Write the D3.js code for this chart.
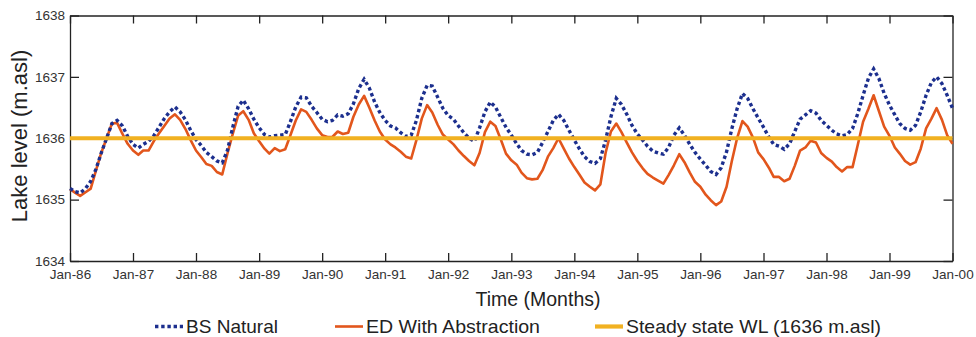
<!DOCTYPE html>
<html>
<head>
<meta charset="utf-8">
<script src="https://cdn.jsdelivr.net/npm/d3@7"></script>
<style>
  body { margin: 0; background: #fff; }
  svg { display: block; font-family: "Liberation Sans", Arial, sans-serif; }
  .axis text { font-size: 13.5px; fill: #333; }
  .axis path, .axis line { stroke: #222; stroke-width: 1.3; }
</style>
</head>
<body>
<div id="chart"></div>
<script>
// monthly lake levels, Jan-86 .. Jan-00 (m.asl)
const bsNatural = [
  1635.18, 1635.13, 1635.11, 1635.18, 1635.30, 1635.50, 1635.76, 1636.00, 1636.24, 1636.29, 1636.20, 1636.03,
  1635.90, 1635.84, 1635.90, 1635.95, 1636.04, 1636.18, 1636.32, 1636.43, 1636.51, 1636.43, 1636.30, 1636.13,
  1635.98, 1635.88, 1635.77, 1635.70, 1635.63, 1635.60, 1635.80, 1636.18, 1636.52, 1636.62, 1636.48, 1636.31,
  1636.17, 1636.06, 1636.02, 1636.04, 1636.05, 1636.06, 1636.27, 1636.51, 1636.67, 1636.66, 1636.52, 1636.42,
  1636.31, 1636.27, 1636.29, 1636.38, 1636.36, 1636.40, 1636.56, 1636.81, 1636.96, 1636.82, 1636.59, 1636.42,
  1636.29, 1636.20, 1636.17, 1636.09, 1636.03, 1636.05, 1636.29, 1636.65, 1636.86, 1636.85, 1636.67, 1636.49,
  1636.37, 1636.31, 1636.20, 1636.09, 1636.00, 1635.95, 1636.17, 1636.43, 1636.59, 1636.51, 1636.34, 1636.18,
  1636.05, 1635.91, 1635.80, 1635.74, 1635.73, 1635.77, 1635.93, 1636.11, 1636.29, 1636.39, 1636.29, 1636.13,
  1635.97, 1635.82, 1635.70, 1635.62, 1635.59, 1635.67, 1635.97, 1636.35, 1636.65, 1636.55, 1636.39, 1636.21,
  1636.07, 1635.97, 1635.87, 1635.79, 1635.76, 1635.74, 1635.85, 1636.05, 1636.17, 1636.05, 1635.90, 1635.77,
  1635.66, 1635.56, 1635.46, 1635.41, 1635.52, 1635.78, 1636.15, 1636.48, 1636.73, 1636.65, 1636.48, 1636.33,
  1636.18, 1636.02, 1635.90, 1635.87, 1635.82, 1635.91, 1636.11, 1636.31, 1636.38, 1636.45, 1636.41, 1636.29,
  1636.21, 1636.13, 1636.07, 1636.04, 1636.06, 1636.16, 1636.40, 1636.70, 1636.98, 1637.13, 1636.97, 1636.73,
  1636.54, 1636.38, 1636.24, 1636.16, 1636.13, 1636.21, 1636.43, 1636.70, 1636.91, 1637.00, 1636.89, 1636.70,
  1636.49
];
const edAbstraction = [
  1635.17, 1635.11, 1635.06, 1635.12, 1635.18, 1635.48, 1635.76, 1636.00, 1636.24, 1636.25, 1636.07, 1635.91,
  1635.80, 1635.73, 1635.80, 1635.80, 1635.95, 1636.08, 1636.20, 1636.32, 1636.39, 1636.30, 1636.15, 1635.97,
  1635.80, 1635.69, 1635.58, 1635.55, 1635.45, 1635.41, 1635.75, 1636.07, 1636.37, 1636.44, 1636.30, 1636.08,
  1635.95, 1635.83, 1635.75, 1635.84, 1635.79, 1635.82, 1636.05, 1636.29, 1636.47, 1636.43, 1636.30, 1636.16,
  1636.05, 1636.02, 1636.02, 1636.11, 1636.07, 1636.09, 1636.35, 1636.55, 1636.69, 1636.50, 1636.29, 1636.11,
  1635.98, 1635.90, 1635.85, 1635.78, 1635.70, 1635.67, 1635.97, 1636.32, 1636.54, 1636.42, 1636.22, 1636.06,
  1635.98, 1635.90, 1635.80, 1635.71, 1635.63, 1635.56, 1635.76, 1636.10, 1636.27, 1636.20, 1635.98, 1635.75,
  1635.64, 1635.57, 1635.44, 1635.35, 1635.33, 1635.34, 1635.48, 1635.70, 1635.84, 1636.00, 1635.83, 1635.67,
  1635.53, 1635.40, 1635.28, 1635.21, 1635.15, 1635.25, 1635.76, 1636.11, 1636.24, 1636.10, 1635.93, 1635.77,
  1635.63, 1635.51, 1635.42, 1635.36, 1635.31, 1635.26, 1635.40, 1635.56, 1635.74, 1635.61, 1635.44, 1635.29,
  1635.21, 1635.08, 1634.99, 1634.91, 1634.97, 1635.21, 1635.62, 1636.00, 1636.28, 1636.19, 1636.01, 1635.77,
  1635.66, 1635.52, 1635.37, 1635.37, 1635.30, 1635.34, 1635.55, 1635.80, 1635.85, 1635.96, 1635.93, 1635.76,
  1635.68, 1635.62, 1635.53, 1635.46, 1635.53, 1635.53, 1635.89, 1636.27, 1636.48, 1636.70, 1636.44, 1636.19,
  1636.04, 1635.85, 1635.75, 1635.63, 1635.57, 1635.61, 1635.83, 1636.16, 1636.32, 1636.49, 1636.30, 1636.05,
  1635.91
];
const steadyLevel = 1636;
const yTicks = [1634, 1635, 1636, 1637, 1638];
const seriesNames = ["BS Natural", "ED With Abstraction", "Steady state WL (1636 m.asl)"];

const months = d3.timeMonth.range(new Date(1986, 0, 1), new Date(2000, 0, 2));

const width = 976, height = 337;
const margin = {top: 15.5, right: 23.5, bottom: 76, left: 70};
const innerW = width - margin.left - margin.right,
      innerH = height - margin.top - margin.bottom;

const svg = d3.select("#chart").append("svg")
  .attr("width", width).attr("height", height);
const g = svg.append("g")
  .attr("transform", `translate(${margin.left},${margin.top})`);

const x = d3.scaleTime()
  .domain([months[0], months[months.length - 1]])
  .range([0, innerW]);
const y = d3.scaleLinear().domain([1634, 1638]).range([innerH, 0]);

const yearTicks = d3.timeYear.range(new Date(1986, 0, 1), new Date(2000, 0, 2));

// axes, ticks pointing inward
const xAxis = g.append("g").attr("class", "axis")
  .attr("transform", `translate(0,${innerH})`)
  .call(d3.axisBottom(x).tickValues(yearTicks).tickFormat(d3.timeFormat("%b-%y"))
    .tickSizeInner(-8).tickSizeOuter(0).tickPadding(9));
xAxis.selectAll("text").attr("dy", "0.72em").attr("y", 8);

g.append("g").attr("class", "axis")
  .call(d3.axisTop(x).tickValues(yearTicks).tickFormat("")
    .tickSizeInner(-8).tickSizeOuter(0));

g.append("g").attr("class", "axis")
  .call(d3.axisLeft(y).tickValues(yTicks).tickFormat(d3.format("d"))
    .tickSizeInner(-9).tickSizeOuter(0))
  .selectAll("text").attr("x", -5);

g.append("g").attr("class", "axis")
  .attr("transform", `translate(${innerW},0)`)
  .call(d3.axisRight(y).tickValues(yTicks).tickFormat("")
    .tickSizeInner(-9).tickSizeOuter(0));

// series
const line = d3.line()
  .x((d, i) => x(months[i]))
  .y(d => y(d));

g.append("path")
  .datum(edAbstraction)
  .attr("fill", "none")
  .attr("stroke", "#e2561c")
  .attr("stroke-width", 2.6)
  .attr("stroke-linejoin", "round")
  .attr("d", line);

g.append("path")
  .datum(bsNatural)
  .attr("fill", "none")
  .attr("stroke", "#1c2f8e")
  .attr("stroke-width", 3.4)
  .attr("stroke-dasharray", "3.4,2.8")
  .attr("d", line);

g.append("line")
  .attr("x1", x(months[0])).attr("x2", x(months[months.length - 1]))
  .attr("y1", y(steadyLevel)).attr("y2", y(steadyLevel))
  .attr("stroke", "#f1b121")
  .attr("stroke-width", 4.2);

// axis titles
svg.append("text")
  .attr("x", 538)
  .attr("y", 306)
  .attr("text-anchor", "middle")
  .attr("font-size", 19.5)
  .attr("fill", "#222")
  .text("Time (Months)");

svg.append("text")
  .attr("transform", `translate(27,136) rotate(-90)`)
  .attr("text-anchor", "middle")
  .attr("font-size", 22)
  .attr("fill", "#222")
  .text("Lake level (m.asl)");

// legend
const legendItems = [
  {name: seriesNames[0], x: 155, len: 92, color: "#1c2f8e", w: 3.4, dash: "3.4,2.8"},
  {name: seriesNames[1], x: 335, len: 174, color: "#e2561c", w: 2.6, dash: null},
  {name: seriesNames[2], x: 595, len: 255, color: "#f1b121", w: 4.2, dash: null}
];
const legend = svg.append("g").attr("transform", "translate(0,326.5)");
legendItems.forEach(it => {
  legend.append("line")
    .attr("x1", it.x).attr("x2", it.x + 28)
    .attr("stroke", it.color).attr("stroke-width", it.w)
    .attr("stroke-dasharray", it.dash);
  legend.append("text")
    .attr("x", it.x + 31).attr("y", 6.5)
    .attr("font-size", 18.5)
    .attr("textLength", it.len)
    .attr("lengthAdjust", "spacingAndGlyphs")
    .attr("fill", "#222")
    .text(it.name);
});
</script>
</body>
</html>
